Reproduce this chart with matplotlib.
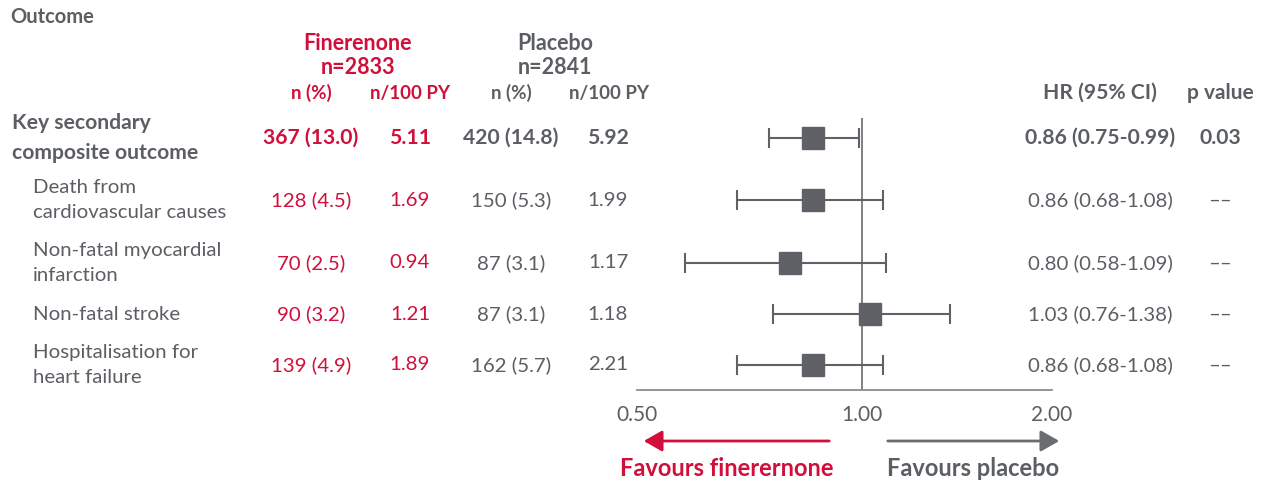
import numpy as np
import matplotlib
matplotlib.use("Agg")
import matplotlib.pyplot as plt

RED = "#d0103a"
GRAY = "#5b5e63"
plt.rcParams['font.family'] = ['Lato', 'DejaVu Sans']

# data
outcomes = ["Key secondary\ncomposite outcome", "Death from\ncardiovascular causes",
            "Non-fatal myocardial\ninfarction", "Non-fatal stroke",
            "Hospitalisation for\nheart failure"]
fin_n = ["367 (13.0)", "128 (4.5)", "70 (2.5)", "90 (3.2)", "139 (4.9)"]
fin_rate = ["5.11", "1.69", "0.94", "1.21", "1.89"]
pla_n = ["420 (14.8)", "150 (5.3)", "87 (3.1)", "87 (3.1)", "162 (5.7)"]
pla_rate = ["5.92", "1.99", "1.17", "1.18", "2.21"]
hr = [0.86, 0.86, 0.80, 1.03, 0.86]
ci_lo = [0.75, 0.68, 0.58, 0.76, 0.68]
ci_hi = [0.99, 1.08, 1.09, 1.38, 1.08]
p_vals = ["0.03", "––", "––", "––", "––"]
ticks = [0.5, 1.0, 2.0]
tick_labels = ["0.50", "1.00", "2.00"]

W, H = 1265, 483
row_y = [138, 200, 263, 314, 365]   # pixel rows

fig = plt.figure(figsize=(W / 100, H / 100), dpi=100)


def fx(px):
    return px / W


def fy(py):
    return 1 - py / H


def txt(px, py, s, **kw):
    kw.setdefault("va", "center")
    kw.setdefault("ha", "center")
    fig.text(fx(px), fy(py), s, **kw)


# piecewise log scale: wider left half as in the original
def fwd(x):
    x = np.asarray(x, dtype=float)
    l = np.log2(np.clip(x, 1e-9, None))
    return np.where(l < 0, l * 225, l * 190)


def inv(y):
    y = np.asarray(y, dtype=float)
    return np.where(y < 0, 2 ** (y / 225), 2 ** (y / 190))


ax_l, ax_r, ax_t, ax_b = 637, 1052, 118, 390
ax = fig.add_axes([fx(ax_l), fy(ax_b), (ax_r - ax_l) / W, (ax_b - ax_t) / H])
ax.set_xscale("function", functions=(fwd, inv))
ax.set_xlim(0.5, 2.0)
ax.set_ylim(ax_b, ax_t)
for s in ["top", "left", "right"]:
    ax.spines[s].set_visible(False)
ax.spines["bottom"].set_color("#8a8c90")
ax.spines["bottom"].set_linewidth(1.3)
ax.set_yticks([])
ax.set_xticks(ticks)
ax.set_xticklabels(tick_labels, fontsize=15, color=GRAY)
ax.tick_params(axis="x", length=0, pad=11)
ax.minorticks_off()
ax.axvline(1.0, color="#5b5e63", lw=1.1)
for i in range(len(hr)):
    ax.errorbar(hr[i], row_y[i], xerr=[[hr[i] - ci_lo[i]], [ci_hi[i] - hr[i]]],
                fmt="s", color="#5f6167", ms=15.5, capsize=7, elinewidth=1.5,
                capthick=1.5, ecolor="#5f6167", clip_on=False)

# headers
txt(10, 17, "Outcome", ha="left", fontsize=14.5, weight="bold", color=GRAY)
txt(358, 43, "Finerenone", fontsize=15.5, weight="bold", color=RED)
txt(358, 67, "n=2833", fontsize=15.5, weight="bold", color=RED)
txt(555, 43, "Placebo", fontsize=15.5, weight="bold", color=GRAY)
txt(555, 67, "n=2841", fontsize=15.5, weight="bold", color=GRAY)
txt(311, 93, "n (%)", fontsize=13.5, weight="bold", color=RED)
txt(410, 93, "n/100 PY", fontsize=13.5, weight="bold", color=RED)
txt(511, 93, "n (%)", fontsize=13.5, weight="bold", color=GRAY)
txt(609, 93, "n/100 PY", fontsize=13.5, weight="bold", color=GRAY)
txt(1100, 93, "HR (95% CI)", fontsize=15.2, weight="bold", color=GRAY)
txt(1220, 93, "p value", fontsize=15, weight="bold", color=GRAY)

# table rows
for i in range(len(outcomes)):
    y = row_y[i]
    key = i == 0
    w = "bold" if key else "normal"
    fs = 15.2 if key else 14.7
    txt(12 if key else 33, y, outcomes[i], ha="left", fontsize=fs, weight=w,
        color=GRAY, linespacing=1.6)
    txt(311, y, fin_n[i], fontsize=fs, weight=w, color=RED)
    txt(410, y, fin_rate[i], fontsize=fs, weight=w, color=RED)
    txt(511, y, pla_n[i], fontsize=fs, weight=w, color=GRAY)
    txt(608, y, pla_rate[i], fontsize=fs, weight=w, color=GRAY)
    txt(1100, y, "%.2f (%.2f-%.2f)" % (hr[i], ci_lo[i], ci_hi[i]), fontsize=fs,
        weight=w, color=GRAY)
    txt(1220, y, p_vals[i], fontsize=fs, weight=w, color=GRAY)

# favours arrows
fig.patches.append(matplotlib.patches.FancyArrowPatch(
    (fx(832), fy(441)), (fx(641), fy(441)), transform=fig.transFigure,
    arrowstyle="-|>,head_length=7,head_width=4", color=RED, lw=2, mutation_scale=1.6))
fig.patches.append(matplotlib.patches.FancyArrowPatch(
    (fx(885), fy(441)), (fx(1062), fy(441)), transform=fig.transFigure,
    arrowstyle="-|>,head_length=7,head_width=4", color="#6a6c70", lw=2, mutation_scale=1.6))
txt(727, 468, "Favours finerernone", fontsize=17, weight="bold", color=RED)
txt(973, 468, "Favours placebo", fontsize=17, weight="bold", color=GRAY)

fig.savefig("out.png", dpi=100)
